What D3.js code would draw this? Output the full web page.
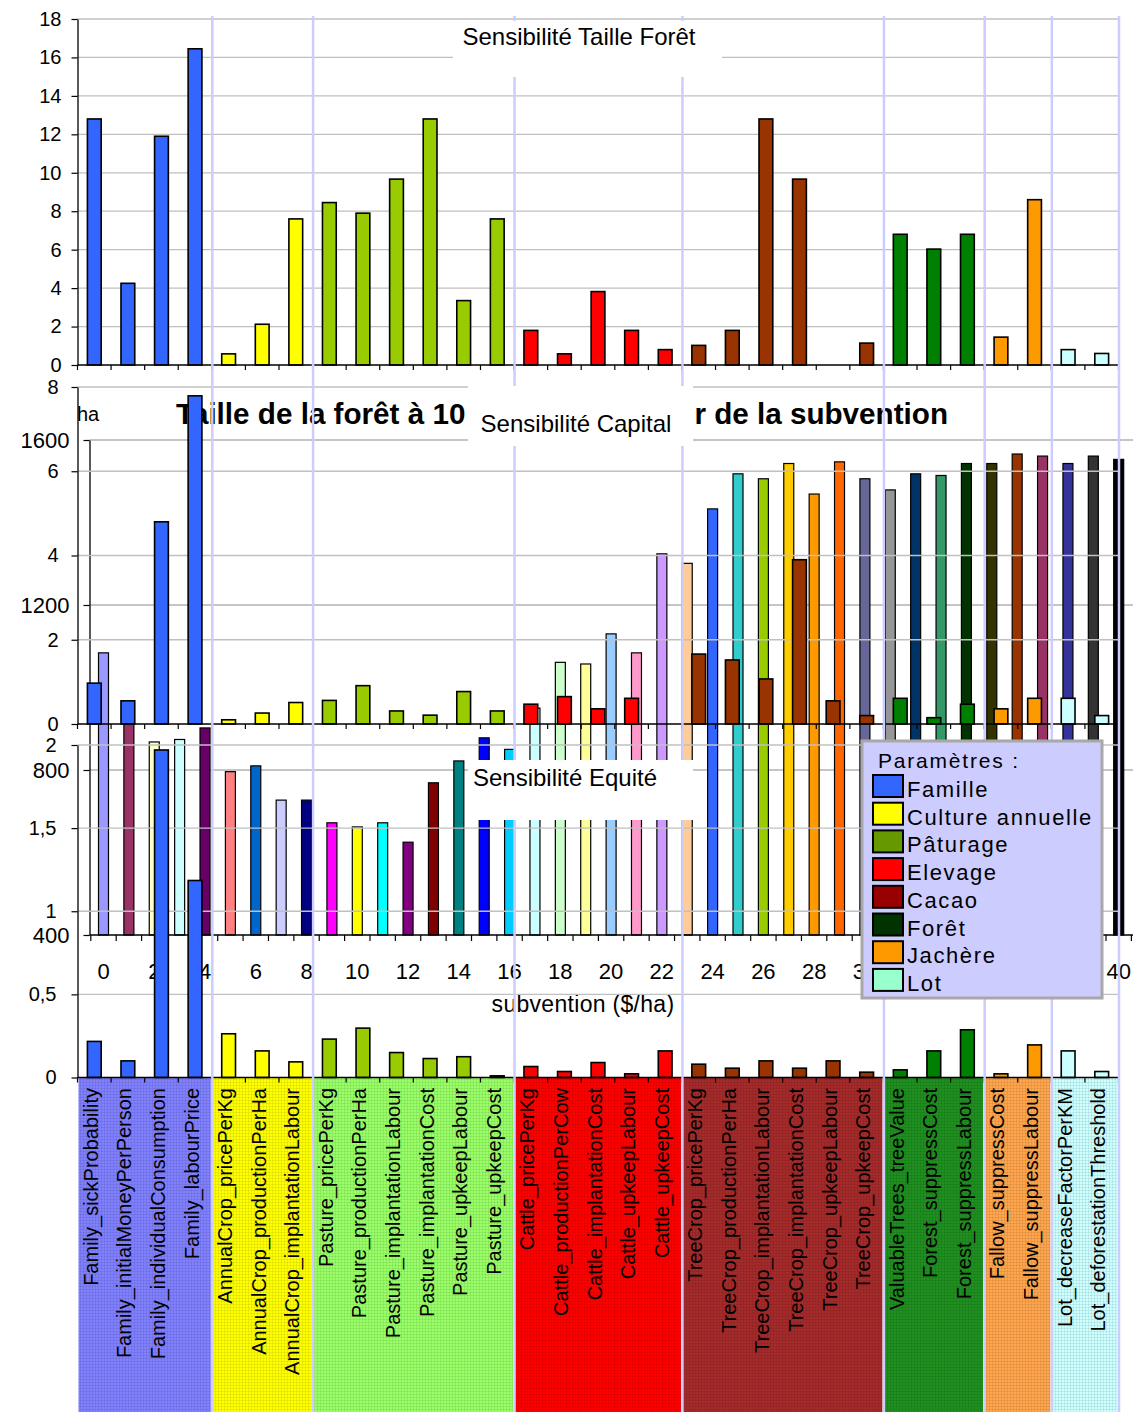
<!DOCTYPE html>
<html><head><meta charset="utf-8">
<script src="https://cdn.jsdelivr.net/npm/d3@7"></script>
<style>
html,body{margin:0;padding:0;background:#fff;}
svg{display:block;font-family:"Liberation Sans",Arial,sans-serif;}
</style></head><body>
<svg id="c" width="1136" height="1412"></svg>
<script>
// ---------------- DATA ----------------
const params = [
  "Family_sickProbability","Family_initialMoneyPerPerson","Family_individualConsumption","Family_labourPrice",
  "AnnualCrop_pricePerKg","AnnualCrop_productionPerHa","AnnualCrop_implantationLabour",
  "Pasture_pricePerKg","Pasture_productionPerHa","Pasture_implantationLabour","Pasture_implantationCost","Pasture_upkeepLabour","Pasture_upkeepCost",
  "Cattle_pricePerKg","Cattle_productionPerCow","Cattle_implantationCost","Cattle_upkeepLabour","Cattle_upkeepCost",
  "TreeCrop_pricePerKg","TreeCrop_productionPerHa","TreeCrop_implantationLabour","TreeCrop_implantationCost","TreeCrop_upkeepLabour","TreeCrop_upkeepCost",
  "ValuableTrees_treeValue","Forest_suppressCost","Forest_suppressLabour",
  "Fallow_suppressCost","Fallow_suppressLabour",
  "Lot_decreaseFactorPerKM","Lot_deforestationThreshold"
];
const groupNames = ["Family","AnnualCrop","Pasture","Cattle","TreeCrop","Forest","Fallow","Lot"];
const groupSizes = [4,3,6,5,6,3,2,2];

// Sensibilité Taille Forêt
const forestSens = [12.8,4.25,11.9,16.45, 0.58,2.12,7.6, 8.45,7.9,9.67,12.8,3.35,7.6,
  1.8,0.58,3.82,1.8,0.8, 1.02,1.8,12.8,9.67,0,1.14, 6.8,6.03,6.8, 1.45,8.6, 0.8,0.6];
// Sensibilité Capital
const capitalSens = [0.97,0.55,4.8,7.79, 0.1,0.26,0.51, 0.56,0.91,0.31,0.21,0.77,0.31,
  0.47,0.65,0.36,0.61,0, 1.66,1.52,1.07,3.9,0.55,0.2, 0.61,0.15,0.47, 0.36,0.61, 0.61,0.2];
// Sensibilité Equité
const equitySens = [0.217,0.1,1.97,1.185, 0.263,0.16,0.094, 0.231,0.297,0.15,0.114,0.125,0.01,
  0.066,0.036,0.09,0.022,0.16, 0.08,0.056,0.1,0.056,0.1,0.032, 0.046,0.16,0.287, 0.022,0.196, 0.16,0.036];

// Taille de la forêt (ha) selon la subvention ($/ha)
const subsidies = [0,1,2,3,4,5,6,7,8,9,10,11,12,13,14,15,16,17,18,19,20,21,22,23,24,25,26,27,28,29,30,31,32,33,34,35,36,37,38,39,40];
const forestArea = [1084,940,868,874,902,796,810,727,727,672,662,672,625,769,822,878,850,950,1061,1057,
  1130,1084,1324,1301,1433,1518,1506,1543,1469,1547,1506,1479,1518,1514,1543,1543,1566,1561,1543,1561,1553];

const topTicks = [0,2,4,6,8,10,12,14,16,18];
const capTicks = [0,2,4,6,8];
const eqTicks = [0,0.5,1,1.5,2];
const areaTicks = [400,800,1200,1600];
const subsidyTickLabels = [0,2,4,6,8,10,12,14,16,18,20,22,24,26,28,30,32,34,36,38,40];

const legendTitle = "Paramètres :";
const legendLabels = ["Famille","Culture annuelle","Pâturage","Elevage","Cacao","Forêt","Jachère","Lot"];

const titleForest = "Sensibilité Taille Forêt";
const titleCapital = "Sensibilité Capital";
const titleEquity = "Sensibilité Equité";
const titleArea = "Taille de la forêt à 10 ans selon valeur de la subvention";
const areaUnit = "ha";
const subsidyAxisTitle = "subvention ($/ha)";

// ---------------- STYLES ----------------
const groupBarColors = ["#3366ff","#ffff00","#99cc00","#ff0000","#993300","#008000","#ff9900","#ccffff"];
const groupBandColors = ["#8080ff","#ffff00","#99ff66","#ff0000","#a52a2a","#1f8f1f","#ffa64d","#ccffff"];
const subsidyColors = ["#9999ff","#993366","#ffffcc","#ccffff","#660066","#ff8080","#0066cc","#ccccff","#000080","#ff00ff",
  "#ffff00","#00ffff","#800080","#800000","#008080","#0000ff","#00ccff","#ccffff","#ccffcc","#ffff99",
  "#99ccff","#ff99cc","#cc99ff","#ffcc99","#3366ff","#33cccc","#99cc00","#ffcc00","#ff9900","#ff6600",
  "#666699","#969696","#003366","#339966","#003300","#333300","#993300","#993366","#333399","#333333","#000000"];
const legendColors = ["#3366ff","#ffff00","#669900","#ff0000","#990000","#003300","#ff9900","#99ffcc"];

// ---------------- LAYOUT ----------------
const svg = d3.select("#c");
const FONT = '"Liberation Sans", Arial, sans-serif';
const X0 = 77.5, X1 = 1118.5;
const xCat = d3.scaleBand().domain(params).range([X0, X1]);
const step = xCat.step();
const barW = step * 0.41;
const groupIdx = [];
groupSizes.forEach((n, g) => { for (let k = 0; k < n; k++) groupIdx.push(g); });
const boundaries = [0];
groupSizes.forEach(n => boundaries.push(boundaries[boundaries.length - 1] + n));
const boundaryX = i => X0 + i * step;

const yTop = d3.scaleLinear().domain([0, 18]).range([365, 19]);
const yCap = d3.scaleLinear().domain([0, 8]).range([724, 387]);
const yEq = d3.scaleLinear().domain([0, 2]).range([1077.5, 745]);
const xBg = d3.scaleLinear().domain([0, 40]).range([103.5, 1118.7]);
const yBg = d3.scaleLinear().domain([400, 1600]).range([935, 440]);
const BG_X0 = 89.5, BG_X1 = 1133;

const commaFmt = d3.formatLocale({decimal: ",", thousands: " ", grouping: [3], currency: ["", ""]}).format("~g");

// defs: band texture
const defs = svg.append("defs");
const pat = defs.append("pattern").attr("id", "tex").attr("width", 3).attr("height", 3)
  .attr("patternUnits", "userSpaceOnUse");
pat.append("path").attr("d", "M3 0V3M0 3H3").attr("stroke", "rgba(0,0,0,0.14)").attr("stroke-width", 1);

// ---------------- 1. BANDS ----------------
const bandTop = 1077.5, bandBot = 1412;
const bands = svg.append("g");
groupNames.forEach((name, g) => {
  const xa = boundaryX(boundaries[g]) + 1, xb = boundaryX(boundaries[g + 1]) - 1;
  bands.append("rect").attr("x", xa).attr("y", bandTop).attr("width", xb - xa).attr("height", bandBot - bandTop)
    .attr("fill", groupBandColors[g]);
  bands.append("rect").attr("x", xa).attr("y", bandTop).attr("width", xb - xa).attr("height", bandBot - bandTop)
    .attr("fill", "url(#tex)");
});
bands.selectAll("text.cat").data(params).join("text").attr("class", "cat")
  .attr("transform", d => `translate(${xCat(d) + step / 2 + 3.5},1088) rotate(-90)`)
  .attr("text-anchor", "end").attr("font-size", 20).attr("fill", "#000").text(d => d);

// ---------------- 2. BACKGROUND CHART (subvention) ----------------
const bg = svg.append("g");
bg.selectAll("line.grid").data(areaTicks.filter(t => t > 400)).join("line")
  .attr("x1", BG_X0).attr("x2", BG_X1).attr("y1", d => yBg(d)).attr("y2", d => yBg(d))
  .attr("stroke", "#8c8c8c").attr("stroke-width", 1.2);
bg.selectAll("rect").data(subsidies).join("rect")
  .attr("x", d => xBg(d) - 5).attr("width", 10)
  .attr("y", (d, i) => yBg(forestArea[i])).attr("height", (d, i) => yBg(400) - yBg(forestArea[i]))
  .attr("fill", (d, i) => subsidyColors[i]).attr("stroke", "#000").attr("stroke-width", 1.2);
const bgAxis = bg.append("g").attr("transform", `translate(${BG_X0},0)`)
  .call(d3.axisLeft(yBg).tickValues(areaTicks).tickFormat(d3.format("d")).tickSize(6).tickPadding(14).tickSizeOuter(0));
bgAxis.select(".domain").attr("stroke", "#000").attr("stroke-width", 1.3);
bgAxis.selectAll(".tick line").attr("stroke", "#000").attr("stroke-width", 1.2);
bgAxis.selectAll("text").attr("font-size", 22).attr("font-family", FONT).attr("fill", "#000");
bg.append("line").attr("x1", BG_X0).attr("x2", BG_X1).attr("y1", yBg(400)).attr("y2", yBg(400))
  .attr("stroke", "#000").attr("stroke-width", 1.3);
bg.selectAll("line.xt").data(subsidies.concat([41])).join("line").attr("class", "xt")
  .attr("x1", d => xBg(d - 0.5)).attr("x2", d => xBg(d - 0.5)).attr("y1", yBg(400)).attr("y2", yBg(400) + 6)
  .attr("stroke", "#000").attr("stroke-width", 1.2);
bg.selectAll("text.xl").data(subsidyTickLabels).join("text").attr("class", "xl")
  .attr("x", d => xBg(d)).attr("y", 979).attr("text-anchor", "middle").attr("font-size", 22).text(d => d);
bg.append("text").attr("x", 583).attr("y", 1012).attr("text-anchor", "middle").attr("font-size", 23)
  .attr("letter-spacing", 0.3).text(subsidyAxisTitle);
bg.append("text").attr("x", 77).attr("y", 421).attr("font-size", 20).text(areaUnit);
bg.append("text").attr("x", 176).attr("y", 424).attr("font-size", 29.65).attr("font-weight", "bold").text(titleArea);

// ---------------- helper for sensitivity charts ----------------
function sensChart(vals, y, ticks, fmt, labelPad, fontSize) {
  const g = svg.append("g");
  g.selectAll("line.grid").data(ticks.filter(t => t > 0)).join("line")
    .attr("x1", X0).attr("x2", X1).attr("y1", d => y(d)).attr("y2", d => y(d))
    .attr("stroke", "#c0c0c0").attr("stroke-width", 1.3);
  const data = params.map((p, i) => ({p, v: vals[i], g: groupIdx[i]})).filter(d => d.v > 0);
  g.selectAll("rect").data(data).join("rect")
    .attr("x", d => xCat(d.p) + (step - barW) / 2).attr("width", barW)
    .attr("y", d => y(d.v)).attr("height", d => y(0) - y(d.v))
    .attr("fill", d => groupBarColors[d.g]).attr("stroke", "#000").attr("stroke-width", 1.6);
  const ax = g.append("g").attr("transform", `translate(${X0},0)`)
    .call(d3.axisLeft(y).tickValues(ticks).tickFormat(fmt).tickSize(6).tickPadding(labelPad).tickSizeOuter(0));
  ax.select(".domain").attr("stroke", "#000").attr("stroke-width", 1.3);
  ax.selectAll(".tick line").attr("stroke", "#000").attr("stroke-width", 1.2);
  ax.selectAll("text").attr("font-size", fontSize).attr("font-family", FONT).attr("fill", "#000");
  g.append("line").attr("x1", X0).attr("x2", X1).attr("y1", y(0)).attr("y2", y(0))
    .attr("stroke", "#000").attr("stroke-width", 1.3);
  g.selectAll("line.xt").data(d3.range(params.length + 1)).join("line").attr("class", "xt")
    .attr("x1", i => boundaryX(i)).attr("x2", i => boundaryX(i)).attr("y1", y(0)).attr("y2", y(0) + 5)
    .attr("stroke", "#000").attr("stroke-width", 1.2);
  return g;
}

sensChart(forestSens, yTop, topTicks, d => d, 10, 20);
sensChart(capitalSens, yCap, capTicks, d => d, 13, 20);
sensChart(equitySens, yEq, eqTicks, commaFmt, 15, 20);

// ---------------- lavender group separators ----------------
svg.append("g").selectAll("line").data(boundaries.slice(1)).join("line")
  .attr("x1", i => boundaryX(i) + 0.5).attr("x2", i => boundaryX(i) + 0.5).attr("y1", 16).attr("y2", 1412)
  .attr("stroke", "#ccccff").attr("stroke-width", 2.5);

// ---------------- title boxes ----------------
function titleBox(x, y, w, h, tx, ty, txt) {
  svg.append("rect").attr("x", x).attr("y", y).attr("width", w).attr("height", h).attr("fill", "#fff");
  svg.append("text").attr("x", tx).attr("y", ty).attr("text-anchor", "middle").attr("font-size", 24).text(txt);
}
titleBox(453, 21, 269, 56, 579, 45, titleForest);
titleBox(468, 386, 225, 60, 576, 432, titleCapital);
titleBox(468, 760, 225, 60, 565, 786, titleEquity);

// ---------------- legend ----------------
const lg = svg.append("g");
lg.append("rect").attr("x", 862).attr("y", 741).attr("width", 240).attr("height", 257)
  .attr("fill", "#ccccff").attr("stroke", "#a8a8a8").attr("stroke-width", 3);
lg.append("text").attr("x", 878).attr("y", 768).attr("font-size", 21).attr("letter-spacing", 1.8).text(legendTitle);
legendLabels.forEach((lab, i) => {
  const yy = 775 + i * 27.7;
  lg.append("rect").attr("x", 873).attr("y", yy).attr("width", 30).attr("height", 22)
    .attr("fill", legendColors[i]).attr("stroke", "#000").attr("stroke-width", 2);
  lg.append("text").attr("x", 907).attr("y", yy + 22).attr("font-size", 22).attr("letter-spacing", 1.6).text(lab);
});
</script>
</body></html>
